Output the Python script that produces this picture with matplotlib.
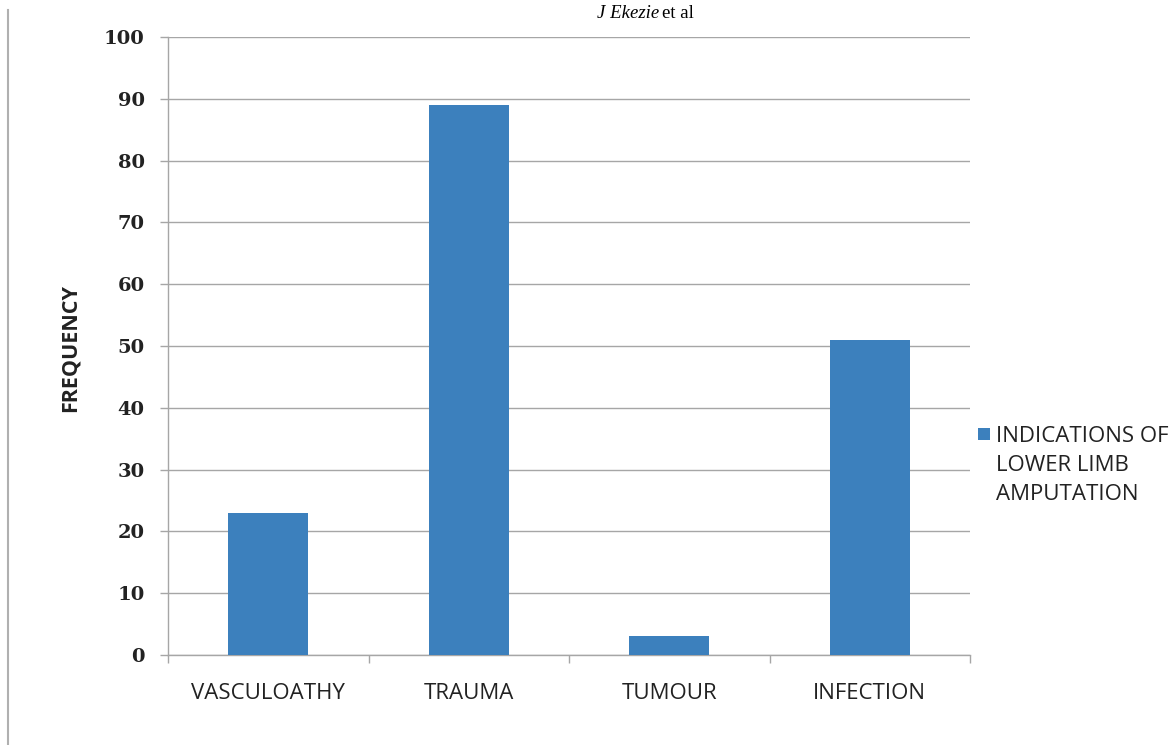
import matplotlib
matplotlib.use("Agg")
import matplotlib.pyplot as plt
from matplotlib.lines import Line2D
from matplotlib.patches import Rectangle

categories = ["VASCULOATHY", "TRAUMA", "TUMOUR", "INFECTION"]
values = [23, 89, 3, 51]
yticks = [0, 10, 20, 30, 40, 50, 60, 70, 80, 90, 100]
series_name = "INDICATIONS OF\nLOWER LIMB\nAMPUTATION"

bar_color = "#3c80bd"
grid_color = "#a6a6a6"

W, H = 1173, 745
fig = plt.figure(figsize=(W / 100, H / 100), dpi=100)
ax = fig.add_axes([168 / W, 1 - 655 / H, (970 - 168) / W, (655 - 37) / H])

x = list(range(len(categories)))
ax.bar(x, values, width=0.4, color=bar_color, zorder=3)

ax.set_xlim(-0.5, len(categories) - 0.5)
ax.set_ylim(0, 100)
ax.set_yticks(yticks)
ax.set_yticklabels([str(v) for v in yticks], fontfamily="DejaVu Serif",
                   fontweight="bold", fontsize=14, color="#222222")
ax.yaxis.grid(True, color=grid_color, linewidth=1.0, zorder=0)

ax.set_xticks(x)
ax.set_xticklabels(categories, fontfamily="Open Sans", fontsize=16, color="#222222")
ax.tick_params(axis="x", length=0, pad=20)
ax.set_xticks([i - 0.5 for i in range(len(categories) + 1)], minor=True)
ax.tick_params(axis="x", which="minor", length=5.8, color=grid_color, width=1.0)
ax.tick_params(axis="y", length=5.8, color=grid_color, width=1.0, pad=11)

for s in ["top", "right"]:
    ax.spines[s].set_visible(False)
for s in ["left", "bottom"]:
    ax.spines[s].set_color(grid_color)
    ax.spines[s].set_linewidth(1.0)

fig.text(70 / W, 1 - 348 / H, "FREQUENCY", rotation=90, ha="center", va="center",
         fontfamily="Open Sans", fontweight="bold", fontsize=15.5, color="#222222")

# legend (drawn manually to match the source layout)
fig.patches.append(Rectangle((978 / W, 1 - 440 / H), 12 / W, 12 / H,
                             transform=fig.transFigure, facecolor=bar_color,
                             edgecolor="none"))
fig.text(996 / W, 1 - 426 / H, series_name, ha="left", va="top",
         fontfamily="Open Sans", fontsize=16, linespacing=1.5, color="#222222")

fig.text(659 / W, 1 - 14 / H, "J Ekezie", ha="right", va="center", style="italic",
         fontfamily="Liberation Serif", fontsize=13.5)
fig.text(662 / W, 1 - 14 / H, "et al", ha="left", va="center",
         fontfamily="Liberation Serif", fontsize=13.5)

fig.add_artist(Line2D([8 / W, 8 / W], [0.0, 1 - 10 / H], color="#b0b0b0", linewidth=1.5))

fig.savefig("out.png", dpi=100)
